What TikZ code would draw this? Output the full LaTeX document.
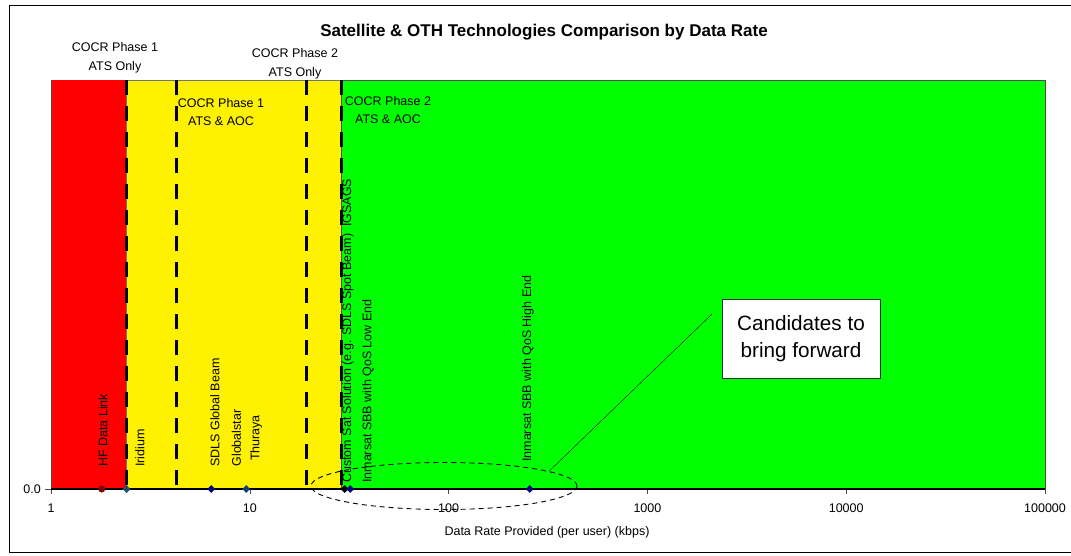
\documentclass[tikz,border=0pt]{standalone}
\usepackage{fontspec}
\setmainfont{Liberation Sans}
\usetikzlibrary{shapes.geometric}

\definecolor{hfred}{HTML}{800000}
\definecolor{navy}{HTML}{000080}
\definecolor{steel}{HTML}{1F4E6E}

% position on the log axis: \dec{power of ten}, \rate{kbps}
\newcommand{\dec}[1]{{51+198.8*(#1)}}
\newcommand{\rate}[1]{{51+198.8*log10(#1)}}

\begin{document}
\begin{tikzpicture}[x=1pt,y=-1pt,
    phaseline/.style={line width=3pt,dash pattern=on 15pt off 11pt},
    lbl/.style={font=\fontsize{12.5}{18.5}\selectfont,align=center,inner sep=0pt},
    tech/.style={lbl,rotate=90,anchor=west},
    pt/.style={diamond,inner sep=0pt,minimum size=8pt},
    tick/.style={black!70,semithick}]
    \useasboundingbox (0,0) rectangle (1071,556);
    \draw[semithick] (1080,5) -- (9,5) -- (9,552) -- (1080,552);

    \fill[red] (\dec{0},80) rectangle (\rate{2.4},489);
    \filldraw[fill=yellow,draw=black!55,thin] (\rate{2.4},80) rectangle (\rate{28.8},489);
    \filldraw[fill=green,draw=black!70,thin] (\rate{28.8},80) rectangle (\dec{5},489);

    \draw[phaseline] (\rate{2.4},80) -- (\rate{2.4},489);
    \draw[phaseline] (\rate{4.3},80) -- (\rate{4.3},489);
    \draw[phaseline] (\rate{19.2},80) -- (\rate{19.2},489);
    \draw[phaseline] (\rate{28.8},80) -- (\rate{28.8},489);

    \draw[tick] (\dec{0},80) -- (\dec{0},489) (45,489) -- (\dec{0},489);
    \draw[tick] (\dec{0},489) -- ++(0,5) (\dec{1},489) -- ++(0,5)
                (\dec{2},489) -- ++(0,5) (\dec{3},489) -- ++(0,5)
                (\dec{4},489) -- ++(0,5) (\dec{5},489) -- ++(0,5);
    \draw[line width=1.3pt] (\dec{0},489) -- (\dec{5},489);

    \node[font=\bfseries\fontsize{17}{20}\selectfont] (title) at (544,32) {Satellite \& OTH Technologies Comparison by Data Rate};

    \node[lbl] (p1ats) at (115,58) {COCR Phase 1\\ATS Only};
    \node[lbl] (p2ats) at (295,64) {COCR Phase 2\\ATS Only};
    \node[lbl] (p1aoc) at (221,112) {COCR Phase 1\\ATS \& AOC};
    \node[lbl] (p2aoc) at (388,110) {COCR Phase 2\\ATS \& AOC};

    \node[circle,fill=hfred,inner sep=0pt,minimum size=7pt] (hfpt) at (\rate{1.8},489) {};
    \node[pt,fill=steel] (iridpt) at (\rate{2.4},489) {};
    \node[pt,fill=navy] (sdlspt) at (\rate{6.4},489) {};
    \node[pt,fill=steel!80!navy] (glopt) at (\rate{9.6},489) {};
    \node[pt,fill=black] (custpt) at (\rate{30},489) {};
    \node[pt,fill=navy] (lowpt) at (\rate{32},489) {};
    \node[pt,fill=navy] (highpt) at (\rate{256},489) {};

    \node[tech] (hf) at (103,467) {HF Data Link};
    \node[tech] (irid) at (140,467) {Iridium};
    \node[tech] (sdls) at (215,467) {SDLS Global Beam};
    \node[lbl,rotate=90] (glo) at (247,438) {Globalstar\\Thuraya};
    \node[tech] (cust) at (348,483) {Custom Sat Solution (e.g. SDLS Spot Beam)\ \ IGSAGS};
    \node[tech] (low) at (368,483) {Inmarsat SBB with QoS Low End};
    \node[tech] (high) at (528,462) {Inmarsat SBB with QoS High End};

    \node[lbl,anchor=east] (zero) at (41,489) {0.0};
    \node[lbl] (t1) at (\dec{0},508) {1};
    \node[lbl] (t10) at (\dec{1},508) {10};
    \node[lbl] (t100) at (\dec{2},508) {100};
    \node[lbl] (t1k) at (\dec{3},508) {1000};
    \node[lbl] (t10k) at (\dec{4},508) {10000};
    \node[lbl] (t100k) at (\dec{5},508) {100000};
    \node[lbl] (xtitle) at (547,532) {Data Rate Provided (per user) (kbps)};

    \node[ellipse,draw=black,line width=0.9pt,dash pattern=on 5pt off 4pt,minimum width=266pt,minimum height=47pt,inner sep=0pt] (oval) at (444,486) {};
    \node[draw=black!80,fill=white,font=\fontsize{20.7}{27}\selectfont,align=center,minimum width=158pt,minimum height=79pt] (note) at (801,338.5) {Candidates to\\bring forward};
    \coordinate (tip) at (712,314);
    \draw (oval.8) -- (tip);
\end{tikzpicture}
\end{document}
